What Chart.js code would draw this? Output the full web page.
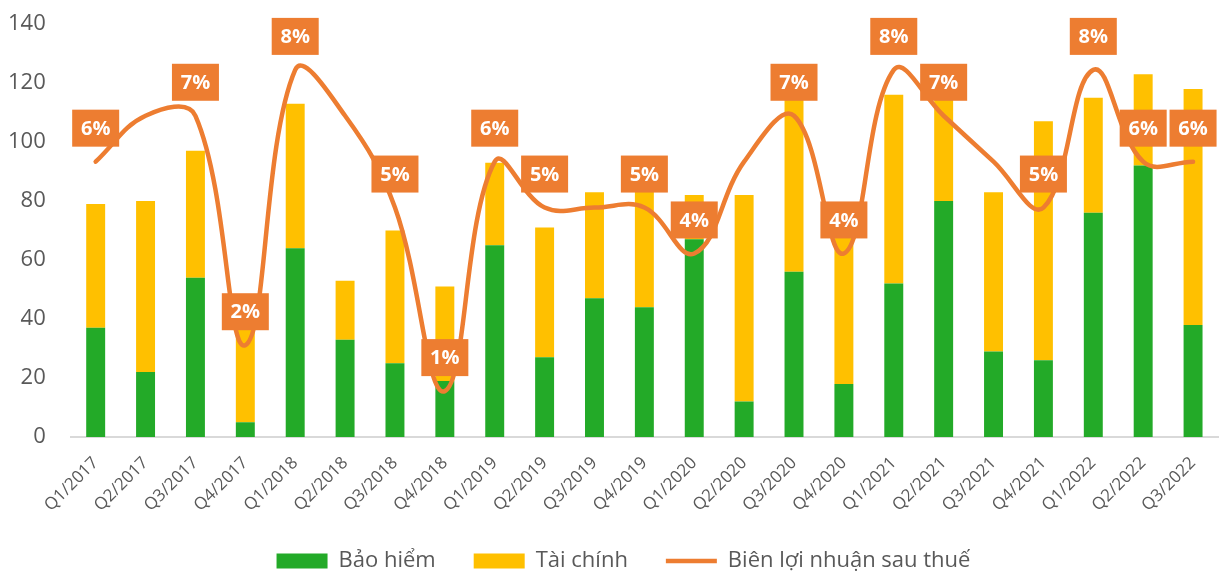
<!DOCTYPE html>
<html>
<head>
<meta charset="utf-8">
<script src="https://cdn.jsdelivr.net/npm/chart.js@4/dist/chart.umd.min.js"></script>
<style>
  html, body { margin: 0; padding: 0; background: #ffffff; }
  #wrap { width: 1224px; height: 571px; position: relative; }
</style>
</head>
<body>
<div id="wrap"><canvas id="c"></canvas></div>
<script>
const categories = ['Q1/2017','Q2/2017','Q3/2017','Q4/2017','Q1/2018','Q2/2018','Q3/2018','Q4/2018',
  'Q1/2019','Q2/2019','Q3/2019','Q4/2019','Q1/2020','Q2/2020','Q3/2020','Q4/2020',
  'Q1/2021','Q2/2021','Q3/2021','Q4/2021','Q1/2022','Q2/2022','Q3/2022'];
const baoHiem  = [37, 22, 54, 5, 64, 33, 25, 19, 65, 27, 47, 44, 67, 12, 56, 18, 52, 80, 29, 26, 76, 92, 38];
const taiChinh = [42, 58, 43, 33, 49, 20, 45, 32, 28, 44, 36, 40, 15, 70, 59, 50, 64, 35, 54, 81, 39, 31, 80];
const bienLoiNhuan = [6, 7, 7, 2, 8, 7, 5, 1, 6, 5, 5, 5, 4, 6, 7, 4, 8, 7, 6, 5, 8, 6, 6];
const showLabel = [1, 0, 1, 1, 1, 0, 1, 1, 1, 1, 0, 1, 1, 0, 1, 1, 1, 1, 0, 1, 1, 1, 1];
const yTicks = [0, 20, 40, 60, 80, 100, 120, 140];

const FONT = '"Open Sans", "Noto Sans", sans-serif';
const TEXT = '#595959';
const ORANGE = '#ED7D31';

const boxLabels = {
  id: 'boxLabels',
  afterLayout(chart) {
    if (chart.legend) { chart.legend.left += 23; chart.legend.right += 23; }
  },
  afterDatasetsDraw(chart) {
    const meta = chart.getDatasetMeta(2);
    const ctx = chart.ctx;
    ctx.save();
    ctx.font = 'bold 20px ' + FONT;
    ctx.textAlign = 'center';
    ctx.textBaseline = 'middle';
    meta.data.forEach((pt, i) => {
      if (!showLabel[i]) return;
      const w = 47, h = 37;
      const bx = pt.x - w / 2;
      const by = pt.y - 15 - h;
      ctx.fillStyle = ORANGE;
      ctx.fillRect(bx, by, w, h);
      ctx.fillStyle = '#ffffff';
      ctx.fillText(bienLoiNhuan[i] + '%', pt.x, by + h / 2 + 1);
    });
    ctx.restore();
  }
};

new Chart(document.getElementById('c'), {
  data: {
    labels: categories,
    datasets: [
      { type: 'bar', label: 'Bảo hiểm', data: baoHiem, backgroundColor: '#23AA28',
        borderWidth: 0, stack: 's', order: 1, pointStyle: 'rect' },
      { type: 'bar', label: 'Tài chính', data: taiChinh, backgroundColor: '#FFC000',
        borderWidth: 0, stack: 's', order: 1, pointStyle: 'rect' },
      { type: 'line', label: 'Biên lợi nhuận sau thuế', data: bienLoiNhuan, yAxisID: 'y1',
        borderColor: ORANGE, backgroundColor: ORANGE, borderWidth: 4.5, pointRadius: 0,
        tension: 0.4, fill: false, order: 0, pointStyle: 'line', borderCapStyle: 'round' }
    ]
  },
  options: {
    responsive: true,
    maintainAspectRatio: false,
    animation: false,
    categoryPercentage: 1,
    barPercentage: 0.38,
    layout: { padding: { left: -17, right: 6, top: 0, bottom: -11 } },
    plugins: {
      tooltip: { enabled: false },
      legend: {
        position: 'bottom',
        labels: {
          usePointStyle: true,
          pointStyleWidth: 51,
          boxHeight: 15,
          padding: 38,
          color: TEXT,
          font: { family: FONT, size: 22 },
          sort: (a, b) => a.datasetIndex - b.datasetIndex
        }
      }
    },
    scales: {
      x: {
        stacked: true,
        grid: { display: false, drawTicks: false },
        border: { display: true, color: '#D9D9D9', width: 2 },
        ticks: { color: TEXT, font: { family: FONT, size: 17 }, maxRotation: 45, minRotation: 45, padding: 16 },
        afterFit: (s) => { s.paddingLeft = 0; s.paddingRight = 0; s.height = 75; }
      },
      y: {
        stacked: true,
        min: 0, max: 140,
        afterBuildTicks: (s) => { s.ticks = yTicks.map(v => ({ value: v })); },
        grid: { display: false, drawTicks: false },
        border: { display: false },
        ticks: { color: TEXT, font: { family: FONT, size: 22 }, padding: 25 },
        afterFit: (s) => { s.paddingTop = 24; s.paddingBottom = 0; }
      },
      y1: {
        display: false, position: 'right', min: 0, max: 9,
        grid: { display: false, drawTicks: false },
        ticks: { display: false }
      }
    }
  },
  plugins: [boxLabels]
});
</script>
</body>
</html>
